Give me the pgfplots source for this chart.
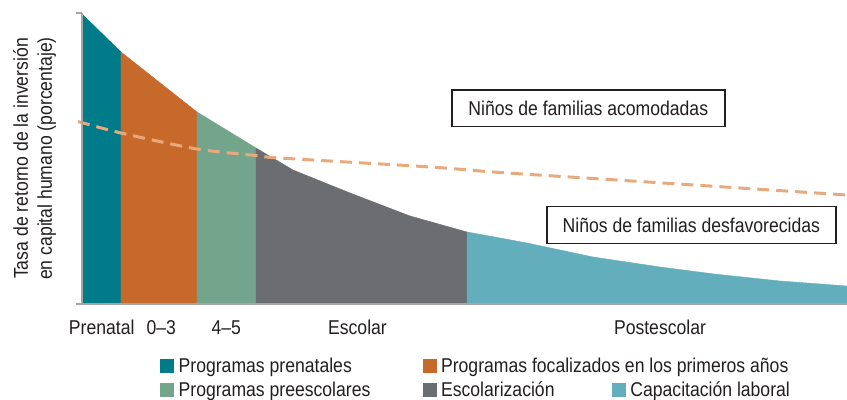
\documentclass[border=0pt]{standalone}
\usepackage{fontspec}
\setmainfont{Liberation Sans}[FakeStretch=0.88]
\usepackage{pgfplots}
\pgfplotsset{compat=1.18}
\definecolor{cteal}{HTML}{007B8A}
\definecolor{corange}{HTML}{C8692C}
\definecolor{csage}{HTML}{72A58B}
\definecolor{cgray}{HTML}{6B6D71}
\definecolor{clight}{HTML}{62AEBD}
\definecolor{cdash}{HTML}{E8AA7C}
\definecolor{ctext}{HTML}{231F20}
\definecolor{caxis}{HTML}{A6A6A6}
\begin{document}
\begin{tikzpicture}
\begin{axis}[
  scale only axis,
  width=382.5pt, height=145.5pt,
  xmin=82, xmax=847, ymin=0, ymax=291,
  axis lines*=left,
  axis line style={draw=caxis, line width=1pt, -},
  xtick=\empty,
  ytick={0,291}, yticklabels={},
  tick align=outside, major tick length=3pt,
  tick style={draw=caxis, line width=1pt},
  axis on top,
  clip=false,
  font=\fontsize{10}{12}\selectfont,
]
% areas under the curve (desfavorecidas)
\addplot[fill=cteal, draw=cteal, line width=0.2pt] coordinates {(82,290) (121,252)} \closedcycle;
\addplot[fill=corange, draw=corange, line width=0.2pt] coordinates {(121,252) (197,192)} \closedcycle;
\addplot[fill=csage, draw=csage, line width=0.2pt] coordinates {(197,192) (256,156)} \closedcycle;
\addplot[fill=cgray, draw=cgray, line width=0.2pt] coordinates {(256,156) (293,134) (350,111) (410,88) (467,72)} \closedcycle;
\addplot[fill=clight, draw=clight, line width=0.2pt] coordinates {(467,72) (500,66) (527,61) (593,47) (660,37) (714,30) (780,23) (847,18)} \closedcycle;
% acomodadas (dashed)
\addplot[cdash, line width=1.5pt, dash pattern=on 6pt off 3.5pt, smooth, tension=0.5] coordinates {(78,182.5) (121,171) (197,155) (256,148.5) (280,146) (430,137) (500,131.5) (640,122.5) (847,109)};

% boxes
\node[draw=ctext, line width=0.7pt, fill=white, minimum width=136.5pt, minimum height=18.3pt, inner sep=0pt, text=ctext] at (axis cs:588.3,195.7) {Niños de familias acomodadas};
\node[draw=ctext, line width=0.7pt, fill=white, minimum width=144.5pt, minimum height=18.3pt, inner sep=0pt, text=ctext] at (axis cs:691.3,79) {Niños de familias desfavorecidas};

% x labels
\node[anchor=base, text=ctext, inner sep=0pt] at (axis cs:101.7,-31) {Prenatal};
\node[anchor=base, text=ctext, inner sep=0pt] at (axis cs:161.3,-31) {0–3};
\node[anchor=base, text=ctext, inner sep=0pt] at (axis cs:226.2,-31) {4–5};
\node[anchor=base, text=ctext, inner sep=0pt] at (axis cs:357.5,-31) {Escolar};
\node[anchor=base, text=ctext, inner sep=0pt] at (axis cs:660,-31) {Postescolar};

% y label
\node[rotate=90, align=center, text=ctext, inner sep=0pt, font=\fontsize{10}{12}\selectfont] at (axis cs:34.5,145.5) {Tasa de retorno de la inversión\\en capital humano (porcentaje)};

% legend
\fill[cteal] (axis cs:160,-55.3) rectangle (axis cs:174,-68.7);
\node[anchor=base west, text=ctext, inner sep=0pt] at (axis cs:178.3,-69) {Programas prenatales};
\fill[corange] (axis cs:423.3,-55.3) rectangle (axis cs:436.7,-68.7);
\node[anchor=base west, text=ctext, inner sep=0pt] at (axis cs:440.7,-69) {Programas focalizados en los primeros años};
\fill[csage] (axis cs:160,-79.2) rectangle (axis cs:174,-92.6);
\node[anchor=base west, text=ctext, inner sep=0pt] at (axis cs:178.3,-92.9) {Programas preescolares};
\fill[cgray] (axis cs:423.3,-79.2) rectangle (axis cs:436.7,-92.6);
\node[anchor=base west, text=ctext, inner sep=0pt] at (axis cs:440.7,-92.9) {Escolarización};
\fill[clight] (axis cs:612.3,-79.2) rectangle (axis cs:626,-92.6);
\node[anchor=base west, text=ctext, inner sep=0pt] at (axis cs:630,-92.9) {Capacitación laboral};

\coordinate (bbSW) at (axis cs:0,-96);
\coordinate (bbNE) at (axis cs:847,304);
\end{axis}
\pgfresetboundingbox
\path[use as bounding box] (bbSW) rectangle (bbNE);
\end{tikzpicture}
\end{document}
